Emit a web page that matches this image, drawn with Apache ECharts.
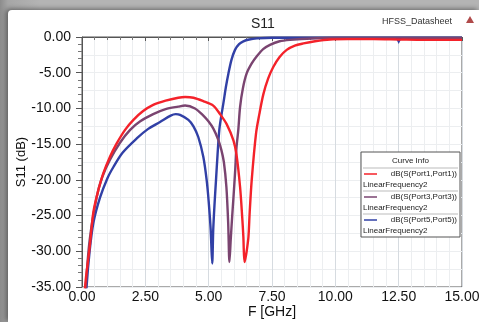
<!DOCTYPE html>
<html>
<head>
<meta charset="utf-8">
<script src="https://cdn.jsdelivr.net/npm/echarts@6/dist/echarts.min.js"></script>
<style>
  html, body { margin: 0; padding: 0; }
  body {
    width: 479px; height: 322px; overflow: hidden;
    background: linear-gradient(90deg, #8c8c8c 0px, #a6a6a6 8px, #b4b4b4 40px);
    position: relative;
  }
  #chart {
    position: absolute; left: 8px; top: 10px; width: 471px; height: 312px;
    background: #fff; border-top-left-radius: 4px;
    box-shadow: -2px -1px 5px rgba(0, 0, 0, 0.45);
  }
</style>
</head>
<body>
<div id="chart"></div>
<script>
// x ticks / y ticks
const xTicks = [0, 2.5, 5, 7.5, 10, 12.5, 15];
const yTicks = [0, -5, -10, -15, -20, -25, -30, -35];

const seriesNames = ["dB(S(Port1,Port1))", "dB(S(Port3,Port3))", "dB(S(Port5,Port5))"];
const sweepName = "LinearFrequency2";
const colors = ["#f4222a", "#7a4470", "#3140a6"];

// Port1 (red)
const freq1 = [0.06, 0.12, 0.3, 0.45, 0.64, 0.84, 1.1, 1.37, 1.7, 2.03, 2.4, 2.81, 3.3, 3.8, 4.07, 4.4, 4.8,
  5.18, 5.45, 5.71, 5.98, 6.1, 6.24, 6.32, 6.37, 6.41, 6.45, 6.5, 6.57, 6.62, 6.7, 6.87, 7.0, 7.16, 7.35,
  7.55, 7.8, 8.08, 8.4, 8.74, 9.2, 9.79, 10.5, 11.5, 12.5, 13.5, 15];
const s11_1 = [-40, -35, -29.5, -24.5, -21.5, -19.1, -16.8, -14.9, -13.0, -11.6, -10.4, -9.5, -8.9, -8.5, -8.4,
  -8.5, -9.0, -9.6, -10.8, -12.2, -14.5, -16.5, -21, -25, -28, -31.5, -31, -30, -28, -24.5, -20, -13.5,
  -10.8, -8.0, -5.8, -4.2, -2.8, -1.8, -1.2, -0.9, -0.6, -0.35, -0.3, -0.3, -0.35, -0.4, -0.4];

// Port3 (purple)
const freq3 = [0.09, 0.15, 0.3, 0.58, 0.8, 1.1, 1.5, 1.9, 2.3, 2.81, 3.3, 3.8, 4.07, 4.46, 4.79, 4.99, 5.18,
  5.38, 5.5, 5.6, 5.7, 5.77, 5.82, 5.87, 5.93, 5.98, 6.05, 6.1, 6.17, 6.24, 6.35, 6.5, 6.7, 6.9, 7.15,
  7.42, 7.8, 8.21, 9.1, 10, 15];
const s11_3 = [-40, -35, -28.5, -22.4, -19.6, -17.2, -14.8, -13.0, -11.8, -10.8, -10.1, -9.75, -9.6, -10.0,
  -11.0, -11.8, -12.8, -14.4, -15.8, -17.5, -21, -26, -31.5, -28.4, -25, -22.4, -18.5, -15.4, -13, -9.8,
  -7.2, -5.1, -3.7, -2.7, -1.7, -1.1, -0.6, -0.4, -0.2, -0.15, -0.15];

// Port5 (blue)
const freq5 = [0.11, 0.18, 0.3, 0.45, 0.71, 1.0, 1.24, 1.6, 2.16, 2.6, 3.08, 3.5, 3.7, 3.87, 4.2, 4.4, 4.59,
  4.79, 4.92, 5.0, 5.08, 5.14, 5.18, 5.23, 5.29, 5.35, 5.42, 5.5, 5.58, 5.68, 5.78, 5.9, 6.04, 6.2, 6.37,
  6.6, 6.9, 7.5, 15];
const s11_5 = [-40, -35, -30, -26, -22.5, -19.8, -18.2, -16.2, -14.2, -12.9, -11.9, -11.0, -10.8, -10.9,
  -11.6, -12.5, -14, -16.8, -20, -23, -27, -31.7, -27, -23.5, -20, -16.5, -13, -11, -9.3, -7, -5.1, -3.2,
  -1.8, -1.0, -0.6, -0.35, -0.2, -0.1, -0.1];

// marker on Port5 trace
const markerPt = [12.5, -0.55];

const zip = (xs, ys) => xs.map((x, i) => [x, ys[i]]);
const curves = [zip(freq1, s11_1), zip(freq3, s11_3), zip(freq5, s11_5)];

const chart = echarts.init(document.getElementById("chart"));

const gridLeft = 74, gridTop = 27, gridRight = 17, gridBottom = 35;
const fnt = "Liberation Sans, Arial, sans-serif";

// "Curve Info" box
const boxX = 353, boxY = 142, boxW = 99, rowH = 23;
const legendEls = [
  { type: "rect", z: 100, shape: { x: boxX, y: boxY, width: boxW, height: 16 + rowH * 3 },
    style: { fill: "#fff", stroke: "#555", lineWidth: 1 } },
  { type: "text", z: 101, x: boxX + boxW / 2, y: boxY + 9,
    style: { text: "Curve Info", font: "8px " + fnt, fill: "#222", align: "center", verticalAlign: "middle" } },
];
seriesNames.forEach((name, i) => {
  const y0 = boxY + 16 + i * rowH;
  legendEls.push(
    { type: "line", z: 101, shape: { x1: boxX + 2, y1: y0, x2: boxX + boxW - 2, y2: y0 },
      style: { stroke: "#bbb", lineWidth: 1 } },
    { type: "line", z: 101, shape: { x1: boxX + 3, y1: y0 + 6, x2: boxX + 16, y2: y0 + 6 },
      style: { stroke: colors[i], lineWidth: 1.5 } },
    { type: "text", z: 101, x: boxX + boxW - 3, y: y0 + 6,
      style: { text: name, font: "8px " + fnt, fill: "#222", align: "right", verticalAlign: "middle" } },
    { type: "text", z: 101, x: boxX + 2, y: y0 + 17,
      style: { text: sweepName, font: "8px " + fnt, fill: "#222", align: "left", verticalAlign: "middle" } }
  );
});

chart.setOption({
  animation: false,
  grid: {
    left: gridLeft, top: gridTop, right: gridRight, bottom: gridBottom,
    outerBoundsMode: "none", containLabel: false,
    show: true, borderColor: "#555", borderWidth: 1,
  },
  xAxis: {
    type: "value", min: 0, max: 15, interval: 2.5,
    name: "F [GHz]", nameLocation: "middle", nameGap: 18, nameMoveOverlap: false,
    nameTextStyle: { color: "#111", fontSize: 14, fontFamily: fnt },
    axisLine: { lineStyle: { color: "#555" } },
    axisTick: { length: 4, lineStyle: { color: "#555" } },
    minorTick: { show: true, splitNumber: 5, length: 3, lineStyle: { color: "#777" } },
    axisLabel: { color: "#111", fontSize: 14, fontFamily: fnt, margin: 3,
      formatter: (v) => xTicks.includes(v) ? v.toFixed(2) : "" },
    splitLine: { lineStyle: { color: "#d6dbe0" } },
    minorSplitLine: { show: true, lineStyle: { color: "#eceef0" } },
  },
  yAxis: [
    {
      type: "value", min: -35, max: 0, interval: 5,
      name: "S11 (dB)", nameLocation: "middle", nameGap: 54, nameMoveOverlap: false,
      nameTextStyle: { color: "#111", fontSize: 13, fontFamily: fnt },
      axisLine: { show: true, lineStyle: { color: "#555" } },
      axisTick: { length: 6, lineStyle: { color: "#555" } },
      minorTick: { show: true, splitNumber: 5, length: 4, lineStyle: { color: "#777" } },
      axisLabel: { color: "#111", fontSize: 14, fontFamily: fnt, margin: 11,
        formatter: (v) => yTicks.includes(v) ? v.toFixed(2) : "" },
      splitLine: { lineStyle: { color: "#d6dbe0" } },
    },
    {
      type: "value", min: -35, max: 0, interval: 2.5,
      axisLine: { show: false }, axisTick: { show: false }, axisLabel: { show: false },
      splitLine: { show: true, lineStyle: { color: "#eceef0" } },
    },
  ],
  title: {
    text: "S11", left: 238, top: 2,
    textStyle: { fontSize: 14, fontWeight: "normal", color: "#222", fontFamily: fnt },
  },
  graphic: [
    { type: "text", x: 374, y: 7,
      style: { text: "HFSS_Datasheet", font: "9px " + fnt, fill: "#333" } },
    { type: "polygon", z: 100, shape: { points: [[458, 13], [462, 6], [466, 13]] },
      style: { fill: "#b04a4a" } },
    ...legendEls,
  ],
  series: curves.map((data, i) => ({
    name: seriesNames[i],
    type: "line",
    yAxisIndex: 0,
    data,
    showSymbol: false,
    smooth: 0.3,
    clip: true,
    lineStyle: { color: colors[i], width: 2.4 },
    itemStyle: { color: colors[i] },
    z: 5 - i,
    markPoint: i === 2 ? {
      symbol: "triangle", symbolRotate: 180, symbolSize: 6,
      label: { show: false },
      data: [{ coord: markerPt }],
      itemStyle: { color: colors[2] },
    } : undefined,
  })),
});
</script>
</body>
</html>
